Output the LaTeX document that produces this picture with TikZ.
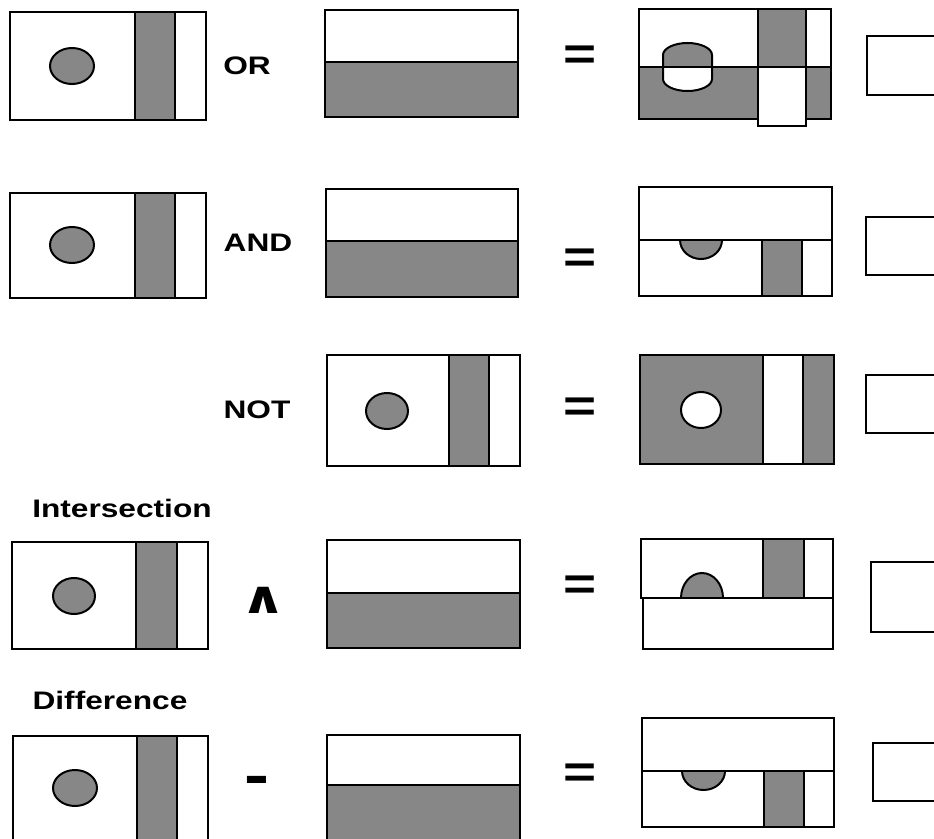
\documentclass[tikz,border=0pt]{standalone}
\usepackage{fontspec}
\setmainfont{Liberation Sans}
\newfontfamily\symfont{DejaVu Sans}
\definecolor{hatch}{RGB}{135,135,135}
\tikzset{
  frame/.style={draw=black, line width=1.5pt},
  shaded/.style={frame, fill=hatch},
  blank/.style={frame, fill=white},
  tab/.style={draw=black, line width=1.2pt, fill=white},
  lbl/.style={inner sep=0pt, font=\fontsize{19}{22}\selectfont\bfseries},
  sign/.style={inner sep=0pt, font=\fontsize{34}{38}\selectfont\bfseries},
}
\newcommand{\wide}[1]{\scalebox{1.25}[1]{#1}}

\begin{document}
\begin{tikzpicture}[x=0.75pt,y=0.75pt,yscale=-1,xscale=1]
	\useasboundingbox (0,0) rectangle (934,838);
	\clip (0,0) rectangle (934,838);

	%%%%%%%% row 1 : OR
	%Shape: Rectangle [operand A]
	\draw [blank] (10,12) rectangle (206,120);
	\draw [shaded] (135,12) rectangle (175,120);
	\draw [shaded] (72,66) ellipse [x radius=22, y radius=18];
	% Text Node
	\draw (247,66) node (lblOr) [lbl] {\wide{OR}};
	%Shape: Rectangle [operand B]
	\draw [blank] (325,10) rectangle (518,117);
	\draw [shaded] (325,62) rectangle (518,117);
	% Text Node
	\draw (580,58) node (eqOr) [sign] {\wide{=}};
	%Shape: result of OR
	\fill [white] (639,9) rectangle (831,67);
	\fill [hatch] (639,67) rectangle (831,119);
	\fill [hatch] (758,9) rectangle (806,67);
	\fill [white] (758,67) rectangle (806,126);
	\begin{scope}
		\clip (639,9) rectangle (758,67);
		\fill [hatch] (663,55) .. controls (663,48.4) and (674,43) .. (687.5,43) .. controls (701,43) and (712,48.4) .. (712,55) -- (712,79) .. controls (712,85.6) and (701,91) .. (687.5,91) .. controls (674,91) and (663,85.6) .. (663,79) -- cycle;
	\end{scope}
	\begin{scope}
		\clip (639,67) rectangle (758,119);
		\fill [white] (663,55) .. controls (663,48.4) and (674,43) .. (687.5,43) .. controls (701,43) and (712,48.4) .. (712,55) -- (712,79) .. controls (712,85.6) and (701,91) .. (687.5,91) .. controls (674,91) and (663,85.6) .. (663,79) -- cycle;
	\end{scope}
	\draw [frame] (663,55) .. controls (663,48.4) and (674,43) .. (687.5,43) .. controls (701,43) and (712,48.4) .. (712,55) -- (712,79) .. controls (712,85.6) and (701,91) .. (687.5,91) .. controls (674,91) and (663,85.6) .. (663,79) -- cycle;
	\draw [frame] (639,67) -- (831,67);
	\draw [frame] (758,9) -- (758,126) (806,9) -- (806,126);
	\draw [frame] (639,9) -- (831,9) -- (831,119) -- (806,119) -- (806,126) -- (758,126) -- (758,119) -- (639,119) -- cycle;
	%Shape: Rectangle [blank answer]
	\draw [tab] (867,36) rectangle (945,95);

	%%%%%%%% row 2 : AND
	\draw [blank] (10,193) rectangle (206,298);
	\draw [shaded] (135,193) rectangle (175,298);
	\draw [shaded] (72,245) ellipse [x radius=22, y radius=18];
	% Text Node
	\draw (258,243) node (lblAnd) [lbl] {\wide{AND}};
	\draw [blank] (326,189) rectangle (518,297);
	\draw [shaded] (326,241) rectangle (518,297);
	% Text Node
	\draw (580,261) node (eqAnd) [sign] {\wide{=}};
	%Shape: result of AND
	\draw [blank] (639,187) rectangle (832,296);
	\begin{scope}
		\clip (639,240) rectangle (832,296);
		\draw [shaded] (701,240) ellipse [x radius=21, y radius=19];
	\end{scope}
	\draw [shaded] (762,240) rectangle (802,296);
	\draw [frame] (639,240) -- (832,240);
	\draw [tab] (866,217) rectangle (945,275);

	%%%%%%%% row 3 : NOT
	% Text Node
	\draw (257,410) node (lblNot) [lbl] {\wide{NOT}};
	\draw [blank] (327,355) rectangle (520,466);
	\draw [shaded] (449,355) rectangle (489,466);
	\draw [shaded] (387,411) ellipse [x radius=21, y radius=18];
	% Text Node
	\draw (580,410) node (eqNot) [sign] {\wide{=}};
	%Shape: result of NOT
	\draw [shaded] (640,355) rectangle (834,464);
	\draw [blank] (763,355) rectangle (803,464);
	\draw [blank] (701,410) ellipse [x radius=20, y radius=18];
	\draw [tab] (866,375) rectangle (945,433);

	%%%%%%%% row 4 : intersection
	% Text Node
	\draw (122,508) node (lblInter) [lbl] {\wide{Intersection}};
	\draw [blank] (12,542) rectangle (208,649);
	\draw [shaded] (136,542) rectangle (177,649);
	\draw [shaded] (74,596) ellipse [x radius=21, y radius=18];
	% Text Node
	\draw (264,600) node (opInter) [sign] {\wide{\symfont\bfseries ∧}};
	\draw [blank] (327,540) rectangle (520,648);
	\draw [shaded] (327,593) rectangle (520,648);
	% Text Node
	\draw (580,588) node (eqInter) [sign] {\wide{=}};
	%Shape: result of intersection
	\draw [blank] (641,539) rectangle (833,598);
	\begin{scope}
		\clip (641,539) rectangle (833,598);
		\draw [shaded] (702,598) ellipse [x radius=21, y radius=25];
	\end{scope}
	\draw [shaded] (763,539) rectangle (804,598);
	\draw [blank] (643,598) rectangle (833,649);
	\draw [tab] (871,562) rectangle (945,632);

	%%%%%%%% row 5 : difference
	% Text Node
	\draw (110,700) node (lblDiff) [lbl] {\wide{Difference}};
	\draw [blank] (13,736) rectangle (208,850);
	\draw [shaded] (137,736) rectangle (177,850);
	\draw [shaded] (75,788) ellipse [x radius=22, y radius=18];
	% Text Node
	\draw (257,786) node (opDiff) [inner sep=0pt, font=\fontsize{45}{50}\selectfont\bfseries] {\wide{-}};
	\draw [blank] (327,735) rectangle (520,850);
	\draw [shaded] (327,785) rectangle (520,850);
	% Text Node
	\draw (580,776) node (eqDiff) [sign] {\wide{=}};
	%Shape: result of difference
	\draw [blank] (642,718) rectangle (834,827);
	\begin{scope}
		\clip (642,771) rectangle (834,827);
		\draw [shaded] (703.5,771) ellipse [x radius=21.5, y radius=19];
	\end{scope}
	\draw [shaded] (764,771) rectangle (804,827);
	\draw [frame] (642,771) -- (834,771);
	\draw [tab] (873,743) rectangle (945,801);
\end{tikzpicture}
\end{document}
